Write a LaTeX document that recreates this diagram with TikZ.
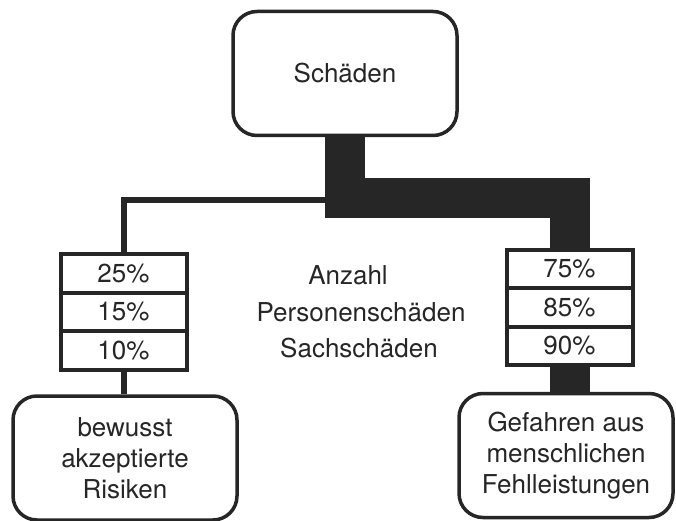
\documentclass[tikz,border=0pt]{standalone}
\usepackage{fontspec}
\usepackage{tikz}
\usetikzlibrary{positioning}
\newfontfamily\heros{TeX Gyre Heros}
\newcommand{\boxfont}{\heros\fontsize{26}{31}\selectfont}
\definecolor{ink}{HTML}{262626}

\begin{document}
\begin{tikzpicture}[x=1pt,y=1pt,line join=miter,node distance=38.5pt,
			main node/.style={draw=ink,line width=3.5pt,rounded corners=24pt,
				fill=white,align=center,font=\boxfont,text=ink,
				minimum width=224pt,minimum height=124pt},
			pct node/.style={draw=ink,line width=4pt,fill=white,font=\boxfont,
				text=ink,minimum width=126pt,minimum height=38.5pt,inner sep=0pt},
			thin link/.style={draw=ink,line width=6pt},
			thick link/.style={draw=ink,line width=40pt},
			plain/.style={font=\boxfont,text=ink,inner sep=0pt}]
			\useasboundingbox (0,0) rectangle (676,-521);
			
			\node[main node] (S) at (345,-73.5) {Schäden};
			
			\node[pct node] (L1) at (123.5,-273.5) {25\%};
			\node[pct node] (L2) [below of=L1] {15\%};
			\node[pct node] (L3) [below of=L2] {10\%};
			
			\node[pct node] (R1) at (569.5,-269) {75\%};
			\node[pct node] (R2) [below of=R1] {85\%};
			\node[pct node] (R3) [below of=R2] {90\%};
			
			\node[main node] (BL) at (125,-458) {bewusst\\akzeptierte\\Risiken};
			\node[main node,minimum width=214pt] (BR) at (566,-455.5)
				{Gefahren aus\\menschlichen\\Fehlleistungen};
			
			% legend in the middle
			\node[plain] (anz) at (348,-275) {Anzahl};
			\node[plain] (pers) at (361,-312) {Personenschäden};
			\node[plain] (sach) at (359,-348) {Sachschäden};
			
			\coordinate (J) at (325,-200);
			\draw[thick link] (S.south) -- (345,-198) -| (R1.north);
			\draw[thin link] (J) -| (L1.north);
			\draw[thin link] (L3.south) -- (L3.south |- BL.north);
			\draw[thick link] (R3.south) -- (R3.south |- BR.north);
		\end{tikzpicture}
\end{document}
